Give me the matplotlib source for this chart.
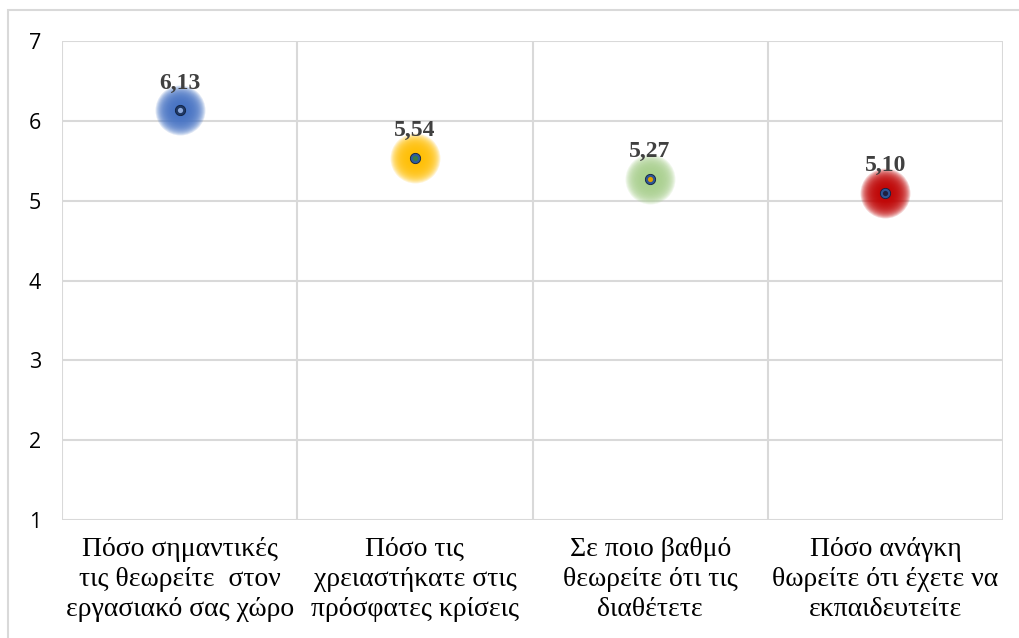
import matplotlib
matplotlib.use("Agg")
from matplotlib import pyplot as plt
from matplotlib.patches import Rectangle
from matplotlib.transforms import blended_transform_factory

# data
categories = [
    "Πόσο σημαντικές\nτις θεωρείτε  στον\nεργασιακό σας χώρο",
    "Πόσο τις\nχρειαστήκατε στις\nπρόσφατες κρίσεις",
    "Σε ποιο βαθμό\nθεωρείτε ότι τις\nδιαθέτετε",
    "Πόσο ανάγκη\nθωρείτε ότι έχετε να\nεκπαιδευτείτε",
]
values = [6.13, 5.54, 5.27, 5.10]
labels = ["6,13", "5,54", "5,27", "5,10"]
glow_colors = ["#4472C4", "#FFC000", "#A9D18E", "#C00000"]
dot_colors = ["#1F3864", "#2E5D9F", "#2F5597", "#2F5597"]
dot_centers = ["#8EA9DB", "#3A7D44", "#E0A000", "#1F1F3F"]

fig = plt.figure(figsize=(10.19, 6.38), dpi=100)
fig.patches.append(Rectangle((8 / 1019, -0.01), 1.02, 1 - 10 / 638 + 0.01,
                             transform=fig.transFigure, fill=False,
                             edgecolor="#D9D9D9", linewidth=1.5))

ax = fig.add_axes([62 / 1019, 1 - 520 / 638, (1003 - 62) / 1019, (520 - 41) / 638])
x = [i + 0.5 for i in range(len(values))]

ax.set_xlim(0, 4)
ax.set_ylim(1, 7)
ax.set_yticks(range(1, 8))
ax.set_xticks(range(5))
ax.set_xticklabels([])
ax.grid(True, axis="both", color="#D9D9D9", linewidth=1.5)
ax.tick_params(axis="both", length=0)
ax.tick_params(axis="y", pad=15, labelsize=15.5, labelfontfamily="Open Sans")
for s in ax.spines.values():
    s.set_visible(False)
ax.set_axisbelow(True)

# category labels below the axis
trans = blended_transform_factory(ax.transData, ax.transAxes)
for xi, cat in zip(x, categories):
    ax.text(xi, -0.035, cat, transform=trans, ha="center", va="top",
            fontsize=20, fontfamily="Liberation Serif", linespacing=1.27,
            color="black")

# glow: stack of translucent circles
for xi, v, gc in zip(x, values, glow_colors):
    n = 18
    for k in range(n):
        size = 1250 * (1 - k / n) ** 1.4 + 40
        ax.scatter(xi, v, s=size, color=gc, alpha=0.17, linewidths=0, zorder=3)

for xi, v, dc, cc, lab in zip(x, values, dot_colors, dot_centers, labels):
    ax.scatter(xi, v, s=55, color=dc, edgecolors="#0F1F3F", linewidths=0.6, zorder=5)
    ax.scatter(xi, v, s=14, color=cc, linewidths=0, zorder=6)
    ax.annotate(lab, (xi, v), xytext=(0, 12), textcoords="offset points",
                ha="center", va="bottom", fontsize=17, fontweight="bold",
                fontfamily="Liberation Serif", color="#404040", zorder=7)

fig.savefig("out.png", dpi=100)
